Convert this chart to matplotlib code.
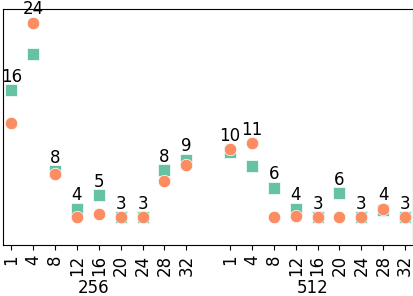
import matplotlib
matplotlib.use("Agg")
import matplotlib.pyplot as plt
import matplotlib.transforms as mtransforms

# two groups of block sizes, nine thread counts each
groups = ["256", "512"]
threads = ["1", "4", "8", "12", "16", "20", "24", "28", "32"]

# values (squares / circles), group 256 then 512
square_vals = [16.7, 20.6, 7.95, 3.9, 5.35, 3.0, 3.0, 8.05, 9.2,
               10.1, 8.5, 6.15, 3.9, 3.0, 5.6, 3.0, 3.8, 3.0]
circle_vals = [13.2, 24.0, 7.65, 3.05, 3.3, 3.0, 3.0, 6.9, 8.6,
               10.35, 11.0, 3.0, 3.1, 3.0, 3.0, 3.0, 3.9, 3.0]
top_labels = ["16", "24", "8", "4", "5", "3", "3", "8", "9",
              "10", "11", "6", "4", "3", "6", "3", "4", "3"]

plt.rcParams['font.size'] = 12

pos = []
for g in range(len(groups)):
    for i in range(len(threads)):
        pos.append(g * (len(threads) + 1) + i)

fig = plt.figure(figsize=(4.14, 2.96), dpi=100)
ax = fig.add_axes([0.0072, 0.1723, 0.9904, 0.7973])

ax.scatter(pos, square_vals, marker='s', s=85, color='#66c2a5',
           edgecolors='white', linewidths=0.5, zorder=2)
ax.scatter(pos, circle_vals, marker='o', s=80, color='#fc8d62',
           edgecolors='white', linewidths=0.5, zorder=3)

for x, a, b, lab in zip(pos, square_vals, circle_vals, top_labels):
    ax.text(x, max(a, b) + 0.5, lab, ha='center', va='bottom', fontsize=12)

ax.set_xlim(-0.38, 18.36)
ax.set_ylim(0, 25.5)
ax.set_yticks([])
ax.set_xticks(pos)
ax.set_xticklabels(threads * len(groups), rotation=90)

trans = mtransforms.blended_transform_factory(ax.transData, fig.transFigure)
for g, name in enumerate(groups):
    ax.text(g * (len(threads) + 1) + 3.75, 0.01, name, transform=trans,
            ha='center', va='baseline', fontsize=12)

fig.savefig("out.png", dpi=100)
